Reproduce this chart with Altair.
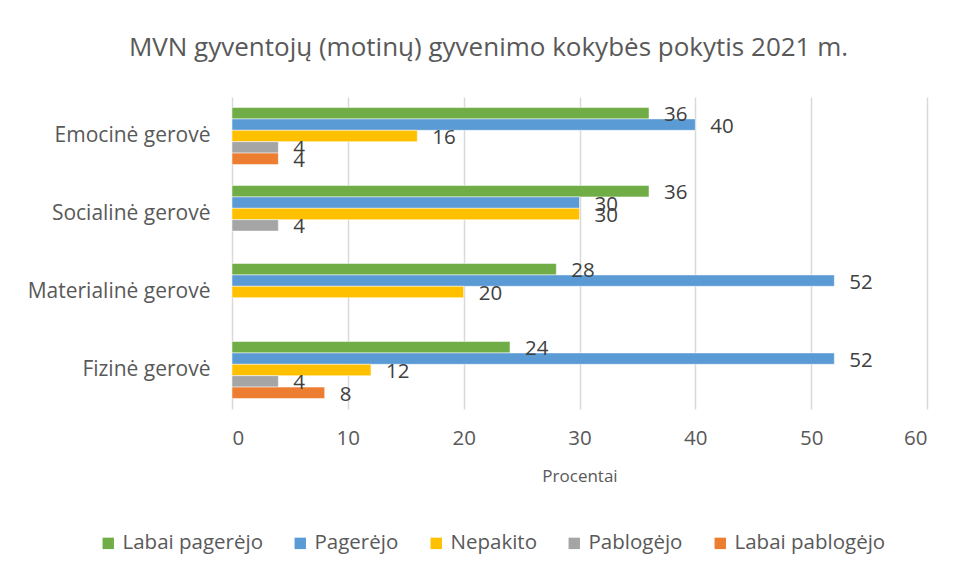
import altair as alt
import pandas as pd

categories = ["Emocinė gerovė", "Socialinė gerovė ", "Materialinė gerovė", "Fizinė gerovė"]
series = ["Labai pagerėjo", "Pagerėjo", "Nepakito", "Pablogėjo", "Labai pablogėjo"]
colors = ["#70AD47", "#5B9BD5", "#FFC000", "#A5A5A5", "#ED7D31"]

labai_pagerejo = [36, 36, 28, 24]
pagerejo = [40, 30, 52, 52]
nepakito = [16, 30, 20, 12]
pablogejo = [4, 4, None, 4]
labai_pablogejo = [4, None, None, 8]

values = [labai_pagerejo, pagerejo, nepakito, pablogejo, labai_pablogejo]
rows = []
for s, vals in zip(series, values):
    for c, v in zip(categories, vals):
        if v is not None:
            rows.append({"Kategorija": c, "Serija": s, "Procentai": v})
df = pd.DataFrame(rows)

FONT = "Open Sans"
TXT = "#595959"

y = alt.Y("Kategorija:N", sort=categories, title=None,
          scale=alt.Scale(paddingInner=0.27, paddingOuter=0.135),
          axis=alt.Axis(labelFontSize=21, labelColor=TXT, labelFont=FONT, labelLimit=400,
                        labelPadding=22, ticks=False, domain=False))
yoff = alt.YOffset("Serija:N", sort=series, scale=alt.Scale(domain=series, paddingInner=0, paddingOuter=0))
x = alt.X("Procentai:Q", title="Procentai",
          scale=alt.Scale(domain=[0, 60], nice=False),
          axis=alt.Axis(values=[0, 10, 20, 30, 40, 50, 60], labelFontSize=20.5, labelColor=TXT,
                        labelFont=FONT, labelPadding=19, ticks=False, domain=False,
                        gridColor="#D9D9D9", gridWidth=1.5,
                        titleFontSize=17, titleColor=TXT, titleFont=FONT,
                        titleFontWeight="normal", titlePadding=20))

color = alt.Color("Serija:N", sort=series,
                  scale=alt.Scale(domain=series, range=colors),
                  legend=alt.Legend(title=None, orient="none", direction="horizontal",
                                    legendX=-134, legendY=436, columns=5,
                                    symbolType="square", symbolSize=130, symbolStrokeWidth=0,
                                    labelFontSize=20.5, labelColor=TXT, labelFont=FONT,
                                    columnPadding=27, symbolOffset=0, labelOffset=4))

bars = alt.Chart(df).mark_bar(stroke="white", strokeWidth=0.5).encode(
    y=y, yOffset=yoff, x=x, color=color)

labels = alt.Chart(df).mark_text(align="left", baseline="middle", dx=15, dy=2,
                                 fontSize=20.5, font=FONT, color="#404040").encode(
    y=alt.Y("Kategorija:N", sort=categories), yOffset=yoff, x="Procentai:Q",
    text="Procentai:Q")

chart = alt.layer(bars, labels).properties(
    width=695, height=312,
    padding={"left": 224, "top": 89, "right": 20, "bottom": 160},
    autosize=alt.AutoSizeParams(type="none"),
    title=alt.TitleParams("MVN gyventojų (motinų) gyvenimo kokybės pokytis 2021 m.",
                          fontSize=26, font=FONT, color=TXT, fontWeight="normal",
                          anchor="middle", dx=-91, offset=36),
).configure(background="white").configure_view(stroke="transparent", strokeWidth=0)

chart.save("out.html", embed_options={"renderer": "svg", "actions": False})
